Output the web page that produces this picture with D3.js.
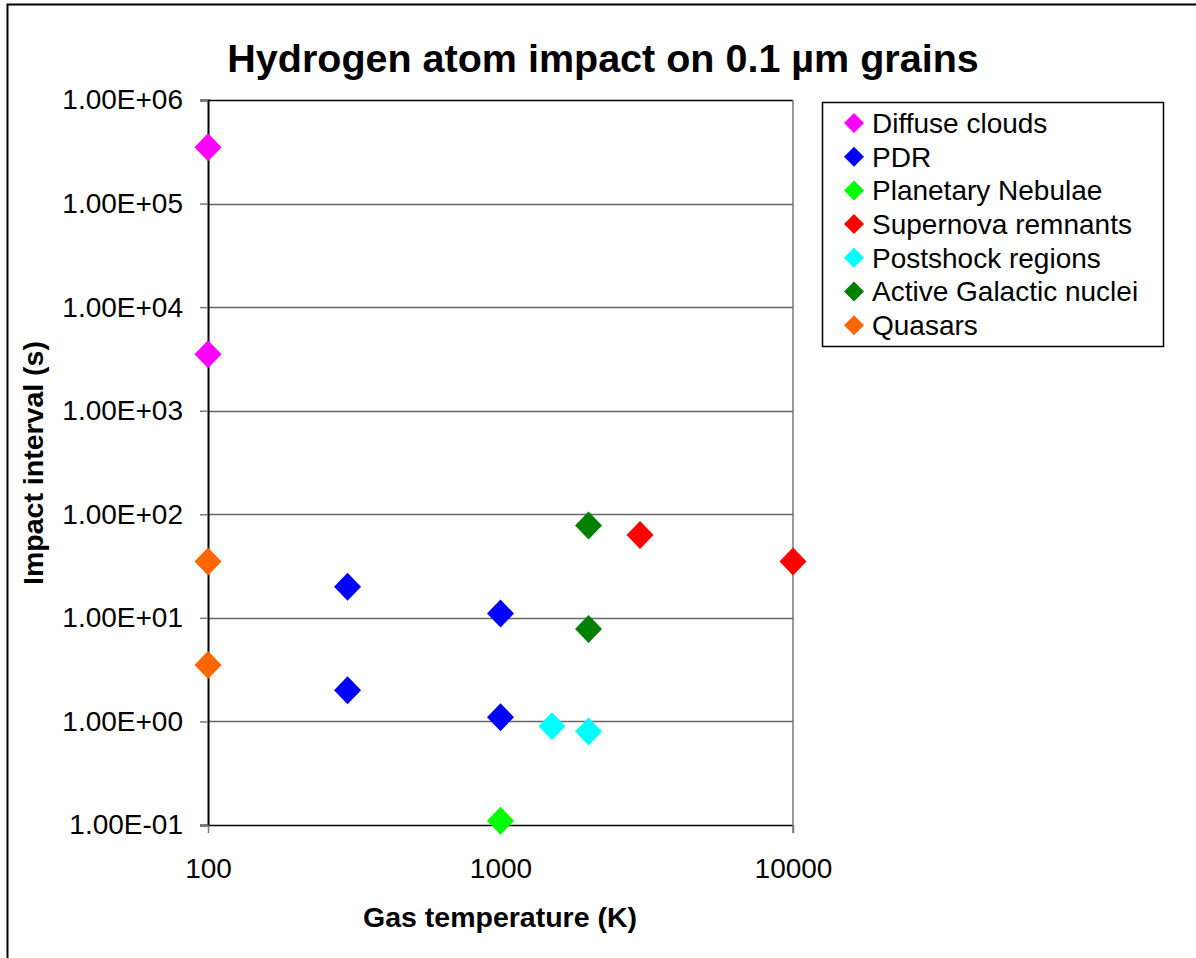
<!DOCTYPE html>
<html>
<head>
<meta charset="utf-8">
<script src="https://cdn.jsdelivr.net/npm/d3@7"></script>
<style>
  body { margin: 0; background: #fff; }
  svg text { font-family: "Liberation Sans", Arial, sans-serif; fill: #000; }
</style>
</head>
<body>
<div id="chart"></div>
<script>
// series names and colours
var seriesNames = ["Diffuse clouds", "PDR", "Planetary Nebulae", "Supernova remnants",
                   "Postshock regions", "Active Galactic nuclei", "Quasars"];
var seriesColors = ["#ff00ff", "#0000ff", "#00ff00", "#ff0000", "#00ffff", "#008000", "#ff6600"];

// points: temperature (K) and impact interval (s)
var diffuseT = [100, 100],      diffuseS = [3.5e5, 3.5e3];
var pdrT = [300, 300, 1000, 1000], pdrS = [20, 2, 11, 1.1];
var pnT = [1000],                pnS = [0.11];
var snrT = [3000, 10000],        snrS = [63, 35];
var postT = [1500, 2000],        postS = [0.9, 0.8];
var agnT = [2000, 2000],         agnS = [78, 7.8];
var quasarT = [100, 100],        quasarS = [35, 3.5];

var xTicks = [100, 1000, 10000];
var yTicks = [1e-1, 1e0, 1e1, 1e2, 1e3, 1e4, 1e5, 1e6];

var width = 1196, height = 958;
var margin = {top: 100, right: 403, bottom: 133, left: 208};

var allSeries = [
  [diffuseT, diffuseS], [pdrT, pdrS], [pnT, pnS], [snrT, snrS],
  [postT, postS], [agnT, agnS], [quasarT, quasarS]
];
var points = [];
allSeries.forEach(function(s, i) {
  s[0].forEach(function(t, j) {
    points.push({series: i, x: t, y: s[1][j]});
  });
});

var svg = d3.select("#chart").append("svg")
  .attr("width", width).attr("height", height);

// outer chart border (right / bottom fall outside the picture)
svg.append("rect")
  .attr("x", 7.5).attr("y", 4.5)
  .attr("width", 1300).attr("height", 1100)
  .attr("fill", "none").attr("stroke", "#000").attr("stroke-width", 2);

var xScale = d3.scaleLog().domain([100, 10000]).range([margin.left, width - margin.right]);
var yScale = d3.scaleLog().domain([0.1, 1e6]).range([height - margin.bottom, margin.top]);

function sci(v) {
  var e = Math.round(Math.log10(v));
  var m = v / Math.pow(10, e);
  return m.toFixed(2) + "E" + (e < 0 ? "-" : "+") + (Math.abs(e) < 10 ? "0" : "") + Math.abs(e);
}

// gridlines
svg.append("g").selectAll("line")
  .data(yTicks)
  .enter().append("line")
  .attr("x1", xScale(100)).attr("x2", xScale(10000))
  .attr("y1", function(d) { return Math.round(yScale(d)) + 0.5; })
  .attr("y2", function(d) { return Math.round(yScale(d)) + 0.5; })
  .attr("stroke", function(d) { return d === 1e6 || d === 0.1 ? "#000" : "#666"; })
  .attr("stroke-width", 1.5);

// right edge of the plot
svg.append("line")
  .attr("x1", xScale(10000)).attr("x2", xScale(10000))
  .attr("y1", yScale(1e6)).attr("y2", yScale(0.1) + 8)
  .attr("stroke", "#777").attr("stroke-width", 1.5);

// y axis
var yAxis = svg.append("g")
  .attr("transform", "translate(" + margin.left + ",0)")
  .call(d3.axisLeft(yScale).tickValues(yTicks).tickFormat(sci).tickSize(8).tickPadding(17));
yAxis.select(".domain").attr("stroke", "#000").attr("stroke-width", 2);
yAxis.selectAll(".tick line").attr("stroke", "#777").attr("stroke-width", 1.5);
yAxis.selectAll("text").attr("font-size", 28).attr("font-family", "Liberation Sans, Arial").attr("fill", "#000");

// x axis
var xAxis = svg.append("g")
  .attr("transform", "translate(0," + yScale(0.1) + ")")
  .call(d3.axisBottom(xScale).tickValues(xTicks).tickFormat(d3.format("d")).tickSize(8).tickPadding(25));
xAxis.select(".domain").remove();
xAxis.selectAll(".tick line").attr("stroke", "#777").attr("stroke-width", 1.5);
xAxis.selectAll("text").attr("font-size", 28).attr("font-family", "Liberation Sans, Arial").attr("fill", "#000");

// diamond markers
function diamond(cx, cy, rx, ry) {
  return "M" + cx + "," + (cy - ry) + "L" + (cx + rx) + "," + cy +
         "L" + cx + "," + (cy + ry) + "L" + (cx - rx) + "," + cy + "Z";
}
svg.append("g").selectAll("path")
  .data(points)
  .enter().append("path")
  .attr("d", function(d) { return diamond(xScale(d.x), yScale(d.y), 13.5, 14); })
  .attr("fill", function(d) { return seriesColors[d.series]; });

// title
svg.append("text")
  .attr("x", 603).attr("y", 72)
  .attr("text-anchor", "middle")
  .attr("font-size", 39.5).attr("font-weight", "bold")
  .text("Hydrogen atom impact on 0.1 \u00b5m grains");

// axis titles
svg.append("text")
  .attr("x", 500).attr("y", 927)
  .attr("text-anchor", "middle")
  .attr("font-size", 28.5).attr("font-weight", "bold")
  .text("Gas temperature (K)");
svg.append("text")
  .attr("transform", "translate(43,463) rotate(-90)")
  .attr("text-anchor", "middle")
  .attr("font-size", 28.5).attr("font-weight", "bold")
  .text("Impact interval (s)");

// legend
var legend = svg.append("g");
legend.append("rect")
  .attr("x", 822.5).attr("y", 102.5)
  .attr("width", 341).attr("height", 244)
  .attr("fill", "#fff").attr("stroke", "#000").attr("stroke-width", 1.5);
var items = legend.selectAll("g.item")
  .data(seriesNames)
  .enter().append("g")
  .attr("class", "item")
  .attr("transform", function(d, i) { return "translate(0," + (123 + i * 33.7) + ")"; });
items.append("path")
  .attr("d", diamond(854, 0, 10, 10))
  .attr("fill", function(d, i) { return seriesColors[i]; });
items.append("text")
  .attr("x", 872).attr("y", 0).attr("dy", "0.35em")
  .attr("font-size", 28)
  .text(function(d) { return d; });
</script>
</body>
</html>
